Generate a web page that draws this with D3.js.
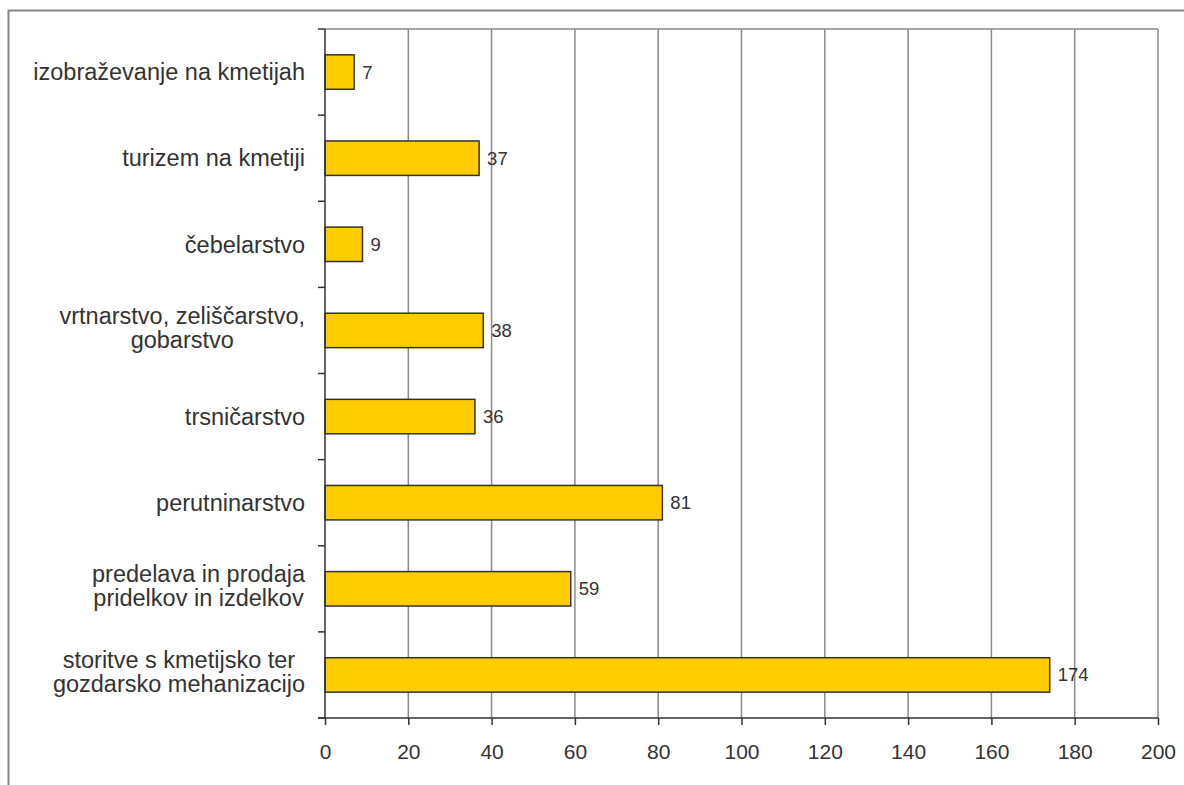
<!DOCTYPE html>
<head>
  <meta charset="utf-8">
  <title>Kmetije - dopolnilne dejavnosti</title>
  <style>
    body { margin: 0; background: #fff; }
    text { font-family: "Liberation Sans", Arial, sans-serif; fill: #333; }
  </style>
</head>
<body>
  <script src="https://cdnjs.cloudflare.com/ajax/libs/d3/7.8.5/d3.min.js"></script>
  <script>
    // data
    var categories = [
      ["izobraževanje na kmetijah"],
      ["turizem na kmetiji"],
      ["čebelarstvo"],
      ["vrtnarstvo, zeliščarstvo,", "gobarstvo"],
      ["trsničarstvo"],
      ["perutninarstvo"],
      ["predelava in prodaja", "pridelkov in izdelkov"],
      ["storitve s kmetijsko ter", "gozdarsko mehanizacijo"]
    ];
    var values = [7, 37, 9, 38, 36, 81, 59, 174];
    var xTicks = [0, 20, 40, 60, 80, 100, 120, 140, 160, 180, 200];

    var w = 1184, h = 785;
    var plotLeft = 325, plotRight = 1158, plotTop = 29, plotBottom = 718;

    var svg = d3.select("body").append("svg")
        .attr("width", w)
        .attr("height", h);

    // outer frame
    svg.append("path")
        .attr("d", "M8.5," + h + "V10.5H" + w)
        .attr("fill", "none")
        .attr("stroke", "#888")
        .attr("stroke-width", 2);

    var x = d3.scaleLinear().domain([0, 200]).range([plotLeft, plotRight]);
    var y = d3.scaleBand()
        .domain(d3.range(categories.length))
        .range([plotTop, plotBottom])
        .paddingInner(0.6)
        .paddingOuter(0.3);

    // grid
    svg.selectAll(".grid")
        .data(xTicks.slice(1))
        .enter()
        .append("line")
        .attr("class", "grid")
        .attr("x1", function(d) { return x(d); })
        .attr("x2", function(d) { return x(d); })
        .attr("y1", plotTop)
        .attr("y2", plotBottom)
        .attr("stroke", "#8a8a8a")
        .attr("stroke-width", 1.5);

    // top border of plot
    svg.append("line")
        .attr("x1", plotLeft).attr("x2", plotRight)
        .attr("y1", plotTop).attr("y2", plotTop)
        .attr("stroke", "#8a8a8a")
        .attr("stroke-width", 1.5);

    // bars
    svg.selectAll(".bar")
        .data(values)
        .enter()
        .append("rect")
        .attr("class", "bar")
        .attr("x", x(0))
        .attr("y", function(d, i) { return y(i); })
        .attr("width", function(d) { return x(d) - x(0); })
        .attr("height", y.bandwidth())
        .attr("fill", "#ffcc00")
        .attr("stroke", "#333")
        .attr("stroke-width", 1.5);

    // value labels
    svg.selectAll(".val")
        .data(values)
        .enter()
        .append("text")
        .attr("class", "val")
        .attr("x", function(d) { return x(d) + 8; })
        .attr("y", function(d, i) { return y(i) + y.bandwidth() / 2; })
        .attr("dy", "0.35em")
        .style("font-size", "18.5px")
        .text(function(d) { return d; });

    // x axis
    var xAxis = d3.axisBottom(x)
        .tickValues(xTicks)
        .tickSize(7)
        .tickPadding(19)
        .tickFormat(d3.format("d"));
    var gx = svg.append("g")
        .attr("transform", "translate(0," + plotBottom + ")")
        .call(xAxis);
    gx.select(".domain").remove();
    gx.selectAll("line").attr("stroke", "#333").attr("stroke-width", 1.5);
    gx.selectAll("text")
        .style("font-family", "'Liberation Sans', Arial, sans-serif")
        .style("font-size", "21px")
        .attr("fill", "#333");

    // left axis line and ticks at band boundaries
    var bounds = d3.range(categories.length + 1).map(function(i) {
      return plotTop + i * (plotBottom - plotTop) / categories.length;
    });
    svg.selectAll(".ytick")
        .data(bounds)
        .enter()
        .append("line")
        .attr("class", "ytick")
        .attr("x1", plotLeft - 7)
        .attr("x2", plotLeft)
        .attr("y1", function(d) { return d; })
        .attr("y2", function(d) { return d; })
        .attr("stroke", "#333")
        .attr("stroke-width", 1.5);
    svg.append("line")
        .attr("x1", plotLeft).attr("x2", plotLeft)
        .attr("y1", plotTop).attr("y2", plotBottom)
        .attr("stroke", "#333").attr("stroke-width", 1.5);
    svg.append("line")
        .attr("x1", plotLeft - 7).attr("x2", plotRight)
        .attr("y1", plotBottom).attr("y2", plotBottom)
        .attr("stroke", "#333").attr("stroke-width", 1.5);

    // category labels (lines centered in a right-aligned block)
    var lineH = 24;
    categories.forEach(function(lines, i) {
      var cy = y(i) + y.bandwidth() / 2 - (lines.length > 1 ? 3 : 0);
      var g = svg.append("g");
      var texts = g.selectAll("text")
          .data(lines)
          .enter()
          .append("text")
          .style("font-size", "23.5px")
          .attr("text-anchor", "middle")
          .attr("y", function(d, j) { return cy + (j - (lines.length - 1) / 2) * lineH; })
          .attr("dy", "0.35em")
          .text(function(d) { return d; });
      var maxW = 0;
      texts.each(function() { maxW = Math.max(maxW, this.getComputedTextLength()); });
      texts.attr("x", 305 - maxW / 2);
    });
  </script>
</body>
